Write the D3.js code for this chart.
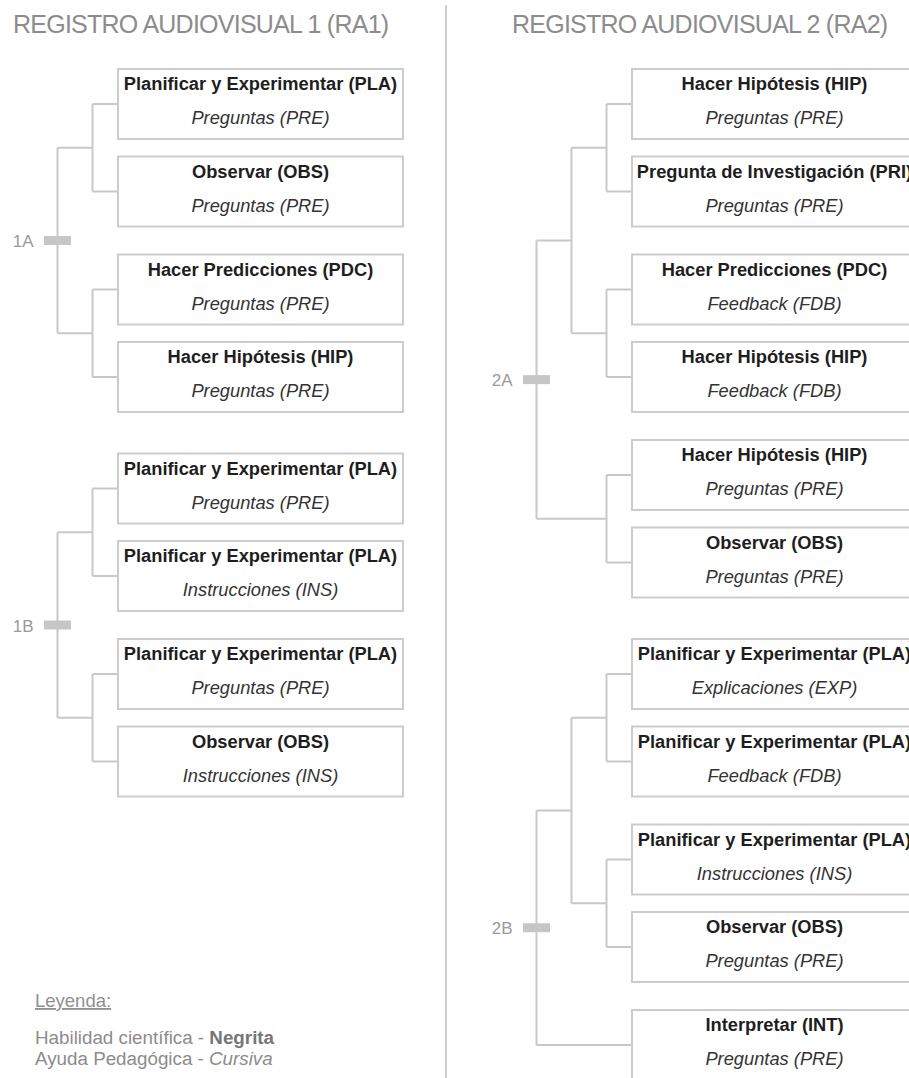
<!DOCTYPE html>
<html>
<head>
<meta charset="utf-8">
<script src="https://cdn.jsdelivr.net/npm/d3@7"></script>
<style>
  html, body { margin: 0; padding: 0; background: #ffffff; overflow: hidden; }
  svg { display: block; }
</style>
</head>
<body>
<div id="chart"></div>
<script>
// column titles
const columnTitles = ["REGISTRO AUDIOVISUAL 1 (RA1)", "REGISTRO AUDIOVISUAL 2 (RA2)"];

// RA1 leaves: skill (bold) and pedagogical aid (italic)
const ra1Skills = [
  "Planificar y Experimentar (PLA)", "Observar (OBS)",
  "Hacer Predicciones (PDC)", "Hacer Hipótesis (HIP)",
  "Planificar y Experimentar (PLA)", "Planificar y Experimentar (PLA)",
  "Planificar y Experimentar (PLA)", "Observar (OBS)"
];
const ra1Aids = [
  "Preguntas (PRE)", "Preguntas (PRE)",
  "Preguntas (PRE)", "Preguntas (PRE)",
  "Preguntas (PRE)", "Instrucciones (INS)",
  "Preguntas (PRE)", "Instrucciones (INS)"
];

// RA2 leaves
const ra2Skills = [
  "Hacer Hipótesis (HIP)", "Pregunta de Investigación (PRI)",
  "Hacer Predicciones (PDC)", "Hacer Hipótesis (HIP)",
  "Hacer Hipótesis (HIP)", "Observar (OBS)",
  "Planificar y Experimentar (PLA)", "Planificar y Experimentar (PLA)",
  "Planificar y Experimentar (PLA)", "Observar (OBS)",
  "Interpretar (INT)"
];
const ra2Aids = [
  "Preguntas (PRE)", "Preguntas (PRE)",
  "Feedback (FDB)", "Feedback (FDB)",
  "Preguntas (PRE)", "Preguntas (PRE)",
  "Explicaciones (EXP)", "Feedback (FDB)",
  "Instrucciones (INS)", "Preguntas (PRE)",
  "Preguntas (PRE)"
];

// group labels and nesting (leaf indices)
const ra1Groups = ["1A", "1B"];
const ra1Nesting = [[[0, 1], [2, 3]], [[4, 5], [6, 7]]];
const ra2Groups = ["2A", "2B"];
const ra2Nesting = [[[[0, 1], [2, 3]], [4, 5]], [[[6, 7], [8, 9]], 10]];

// legend
const legendTitle = "Leyenda:";
const legendRows = [
  ["Habilidad científica - ", "Negrita", "bold"],
  ["Ayuda Pedagógica - ", "Cursiva", "italic"]
];

const width = 909;
const height = 1078;
const font = "'Liberation Sans', Arial, Helvetica, sans-serif";
const lineColor = "#c8c8c8";
const boxW = 285;
const boxH = 70;
const firstMid = 104;

const svg = d3.select("#chart")
  .append("svg")
  .attr("width", width)
  .attr("height", height)
  .style("background", "#ffffff");

// separator
svg.append("line")
  .attr("x1", 446).attr("x2", 446)
  .attr("y1", 5).attr("y2", height)
  .attr("stroke", "#cfcfcf")
  .attr("stroke-width", 2);

// titles
const titleX = [13, 512];
columnTitles.forEach((t, i) => {
  svg.append("text")
    .attr("x", titleX[i])
    .attr("y", 33)
    .style("font-family", font)
    .style("font-size", "25px")
    .style("letter-spacing", "-0.75px")
    .attr("fill", "#8c8c8c")
    .text(t);
});

// separation between neighbouring leaves (top-to-top distance)
function separation(a, b) {
  if (a.parent === b.parent) return 87.5;
  const ga = a.ancestors().find(n => n.depth === 1);
  const gb = b.ancestors().find(n => n.depth === 1);
  return ga === gb ? 98 : 111.5;
}

function drawColumn(groups, nesting, skills, aids, boxLeft) {
  const data = {
    children: groups.map((g, i) => ({ label: g, children: nesting[i] }))
  };
  const root = d3.hierarchy(data, d => d.children ? d.children : (Array.isArray(d) ? d : null));
  d3.cluster().nodeSize([1, 1]).separation(separation)(root);

  const leaves = root.leaves();
  const y = d3.scaleLinear()
    .domain([leaves[0].x, leaves[0].x + 1])
    .range([firstMid, firstMid + 1]);
  // horizontal position by node height
  const xh = d3.scaleLinear().domain([1, 2]).range([boxLeft - 25.5, boxLeft - 60.5]);
  const xOf = n => n.height === 0 ? boxLeft : xh(n.height);

  const g = svg.append("g");

  // elbow connectors
  root.descendants().filter(n => n.depth > 0 && n.children).forEach(n => {
    const px = xOf(n);
    const kids = n.children;
    g.append("line")
      .attr("x1", px).attr("x2", px)
      .attr("y1", y(kids[0].x)).attr("y2", y(kids[kids.length - 1].x))
      .attr("stroke", lineColor).attr("stroke-width", 2);
    kids.forEach(k => {
      g.append("line")
        .attr("x1", px).attr("x2", xOf(k))
        .attr("y1", y(k.x)).attr("y2", y(k.x))
        .attr("stroke", lineColor).attr("stroke-width", 2);
    });
  });

  // group markers
  root.children.forEach(n => {
    const px = xOf(n);
    g.append("rect")
      .attr("x", px - 13.5).attr("y", y(n.x) - 4.5)
      .attr("width", 27).attr("height", 9)
      .attr("fill", "#c6c6c6");
    g.append("text")
      .attr("x", px - 24).attr("y", y(n.x) + 6.5)
      .attr("text-anchor", "end")
      .style("font-family", font)
      .style("font-size", "17px")
      .attr("fill", "#9a9a9a")
      .text(n.data.label);
  });

  // leaf boxes
  leaves.forEach(n => {
    const top = y(n.x) - boxH / 2;
    g.append("rect")
      .attr("x", boxLeft).attr("y", top)
      .attr("width", boxW).attr("height", boxH)
      .attr("fill", "#ffffff")
      .attr("stroke", "#cccccc").attr("stroke-width", 2);
    g.append("text")
      .attr("x", boxLeft + boxW / 2).attr("y", top + 21)
      .attr("text-anchor", "middle")
      .style("font-family", font)
      .style("font-size", "18.3px")
      .style("font-weight", "bold")
      .attr("fill", "#1e1e1e")
      .text(skills[n.data]);
    g.append("text")
      .attr("x", boxLeft + boxW / 2).attr("y", top + 55)
      .attr("text-anchor", "middle")
      .style("font-family", font)
      .style("font-size", "18.3px")
      .style("font-style", "italic")
      .attr("fill", "#333333")
      .text(aids[n.data]);
  });
}

drawColumn(ra1Groups, ra1Nesting, ra1Skills, ra1Aids, 118);
drawColumn(ra2Groups, ra2Nesting, ra2Skills, ra2Aids, 632);

// legend
svg.append("text")
  .attr("x", 35).attr("y", 1007)
  .style("font-family", font)
  .style("font-size", "18.5px")
  .style("text-decoration", "underline")
  .attr("fill", "#909090")
  .text(legendTitle);

legendRows.forEach((r, i) => {
  const t = svg.append("text")
    .attr("x", 35).attr("y", 1044 + i * 21)
    .style("font-family", font)
    .style("font-size", "18.8px")
    .attr("fill", "#8c8c8c");
  t.append("tspan").text(r[0]);
  t.append("tspan")
    .style(r[2] === "bold" ? "font-weight" : "font-style", r[2])
    .attr("fill", r[2] === "bold" ? "#767676" : "#8c8c8c")
    .text(r[1]);
});
</script>
</body>
</html>
